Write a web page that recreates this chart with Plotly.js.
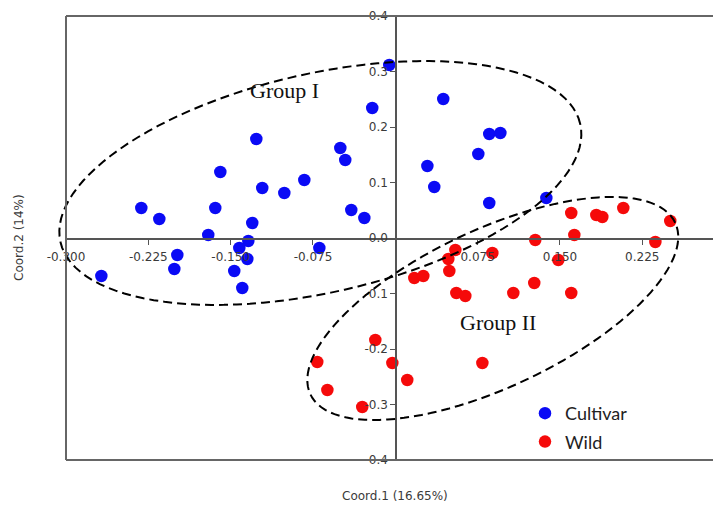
<!DOCTYPE html>
<html>
<head>
<meta charset="utf-8">
<script src="https://cdn.plot.ly/plotly-3.0.1.min.js"></script>
<style>html,body{margin:0;padding:0;background:#fff;overflow:hidden}#chart{width:713px;height:507px}</style>
</head>
<body>
<div id="chart"></div>
<script>
// ---- data ----
const cultivarX = [-0.1266,-0.1594,-0.1212,-0.1011,-0.2314,-0.2150,-0.1640,-0.1303,-0.1704,-0.1339,-0.1421,-0.1986,-0.1348,-0.2013,-0.1467,-0.1394,-0.2678,-0.0055,0.0437,-0.0210,0.0856,0.0957,-0.0501,-0.0456,0.0756,0.0292,0.0355,-0.0829,-0.0401,-0.0282,0.0856,-0.0692,0.1376];
const cultivarY = [0.1784,0.1189,0.0901,0.0811,0.0541,0.0342,0.0541,0.0270,0.0054,-0.0054,-0.0180,-0.0306,-0.0378,-0.0559,-0.0595,-0.0901,-0.0685,0.3117,0.2505,0.2342,0.1874,0.1892,0.1622,0.1405,0.1514,0.1297,0.0919,0.1045,0.0505,0.0360,0.0631,-0.0180,0.0721];
const wildX = [0.0547,0.0483,0.0492,0.0173,0.0255,0.0884,0.0556,0.0638,0.1075,0.1603,0.1831,0.1886,0.2077,0.2505,0.1275,0.1631,0.2369,0.1485,0.1266,0.1603,-0.0182,-0.0711,-0.0027,0.0793,-0.0619,0.0109,-0.0301];
const wildY = [-0.0216,-0.0378,-0.0595,-0.0721,-0.0685,-0.0270,-0.0991,-0.1045,-0.0991,0.0450,0.0414,0.0378,0.0541,0.0306,-0.0036,0.0054,-0.0072,-0.0396,-0.0811,-0.0991,-0.1838,-0.2234,-0.2252,-0.2252,-0.2739,-0.2559,-0.3045];
const seriesNames = ["Cultivar","Wild"];
const xTickVals = [-0.3,-0.225,-0.15,-0.075,0.075,0.15,0.225];
const xTickText = ["-0.300","-0.225","-0.150","-0.075","0.075","0.150","0.225"];
const yTickVals = [0.4,0.3,0.2,0.1,0,-0.1,-0.2,-0.3,-0.4];
const yTickText = ["0.4","0.3","0.2","0.1","0.0","-0.1","-0.2","-0.3","-0.4"];
const groupLabels = ["Group I","Group II"];
const xTitle = "Coord.1 (16.65%)";
const yTitle = "Coord.2 (14%)";

// ---- layout geometry ----
const W = 713, H = 507;
const M = {l:66, r:0, t:16, b:47};
const pw = W - M.l - M.r, ph = H - M.t - M.b;
const xMin = -0.3, xMax = -0.3 + pw/1097.7;
const yMin = -0.4, yMax = 0.4;
const sx = pw/(xMax-xMin), sy = ph/(yMax-yMin);
const toPX = x => (x - xMin)/(xMax - xMin);
const toPY = y => (y - yMin)/(yMax - yMin);

// ellipse outlines (center in data units, semi-axes in px, tilt deg)
function ellipsePath(cx, cy, a, b, deg){
  const f = deg*Math.PI/180; let d = "";
  for(let i=0;i<=120;i++){
    const t = i/120*2*Math.PI;
    const dx = a*Math.cos(t)*Math.cos(f) - b*Math.sin(t)*Math.sin(f);
    const dy = a*Math.cos(t)*Math.sin(f) + b*Math.sin(t)*Math.cos(f);
    const X = toPX(cx + dx/sx), Y = toPY(cy + dy/sy);
    d += (i===0?"M":"L") + X.toFixed(5) + "," + Y.toFixed(5);
  }
  return d + "Z";
}
const frameColor = "#666";
const shapes = [
  {type:"path", xref:"paper", yref:"paper", path: ellipsePath(-0.0683, 0.0991, 266.5, 109.4, 12.8), line:{color:"#000", width:2, dash:"9px,5px"}},
  {type:"path", xref:"paper", yref:"paper", path: ellipsePath(0.0888, -0.1270, 201.6, 78.7, 25.2), line:{color:"#000", width:2, dash:"9px,5px"}},
  {type:"line", xref:"paper", yref:"paper", x0:0, x1:0, y0:0, y1:1, line:{color:frameColor, width:2}},
  {type:"line", xref:"paper", yref:"paper", x0:0, x1:1, y0:1, y1:1, line:{color:frameColor, width:2}},
  {type:"line", xref:"paper", yref:"paper", x0:0, x1:1, y0:0, y1:0, line:{color:frameColor, width:2}}
];

const traces = [
  {x: cultivarX, y: cultivarY, name: seriesNames[0], type:"scatter", mode:"markers", legendgroup:"a",
   marker:{color:"#0a0af5", size:12.5}},
  {x: wildX, y: wildY, name: seriesNames[1], type:"scatter", mode:"markers", legendgroup:"b",
   marker:{color:"#f50a0a", size:12.5}}
];

const tickFont = {family:"DejaVu Sans", size:12, color:"#3a3a3a"};
const layout = {
  width: W, height: H, margin: M,
  paper_bgcolor:"#fff", plot_bgcolor:"#fff",
  showlegend: true,
  legend: {x: (525-M.l)/pw, y: (460-395)/ph, xanchor:"left", yanchor:"top", bgcolor:"rgba(0,0,0,0)",
           font:{family:"Lato", size:18, color:"#222"}, tracegroupgap: 2},
  xaxis: {range:[xMin,xMax], anchor:"free", position: toPY(0), showgrid:false, zeroline:false,
          showline:true, linecolor:"#555", linewidth:1.5, ticks:"outside", ticklen:5, tickcolor:"#555",
          tickvals:xTickVals, ticktext:xTickText, tickfont:tickFont, ticklabelstandoff:2},
  yaxis: {range:[yMin,yMax], anchor:"free", position: toPX(0), showgrid:false, zeroline:false,
          showline:true, linecolor:"#555", linewidth:1.5, ticks:"outside", ticklen:5, tickcolor:"#555",
          tickvals:yTickVals, ticktext:yTickText, tickfont:tickFont},
  shapes: shapes,
  annotations: [
    {text: groupLabels[0], x:-0.101, y:0.265, xref:"x", yref:"y", showarrow:false,
     font:{family:"Liberation Serif", size:22, color:"#111"}},
    {text: groupLabels[1], x:0.094, y:-0.152, xref:"x", yref:"y", showarrow:false,
     font:{family:"Liberation Serif", size:22, color:"#111"}},
    {text: xTitle, x: toPX(0), y: -(496-460)/ph, xref:"paper", yref:"paper", xanchor:"center", yanchor:"middle", showarrow:false,
     font:{family:"DejaVu Sans", size:12, color:"#3a3a3a"}},
    {text: yTitle, x: -(66-19)/pw, y: toPY(0), xref:"paper", yref:"paper", xanchor:"center", yanchor:"middle", showarrow:false, textangle:-90,
     font:{family:"DejaVu Sans", size:12, color:"#3a3a3a"}}
  ]
};
Plotly.newPlot("chart", traces, layout, {displayModeBar:false, staticPlot:true});
</script>
</body>
</html>
